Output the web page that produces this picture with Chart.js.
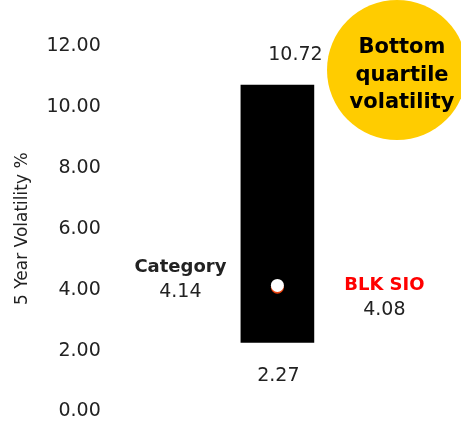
<!DOCTYPE html>
<html>
<head>
<meta charset="utf-8">
<script src="https://cdn.jsdelivr.net/npm/chart.js@4"></script>
<style>
  html, body { margin: 0; padding: 0; background: #fff; }
  #wrap { width: 461px; height: 421px; }
</style>
</head>
<body>
<div id="wrap"><canvas id="chart" width="461" height="421"></canvas></div>
<script>
// values
const categories = ['5 Year Volatility'];
const rangeLow = [2.27];
const rangeHigh = [10.72];
const categoryAvg = [4.14];
const fundValue = [4.08];
const yTicks = [0, 2, 4, 6, 8, 10, 12];

const FONT = '"DejaVu Sans", sans-serif';
const INK = '#222';

// text labels + yellow badge
const labelPlugin = {
    id: 'labels',
    afterDatasetsDraw(chart) {
        const { ctx, scales: { x, y } } = chart;
        const cx = x.getPixelForValue(0);
        ctx.save();
        ctx.textAlign = 'center';
        ctx.textBaseline = 'middle';

        ctx.fillStyle = INK;
        ctx.font = '19px ' + FONT;
        ctx.fillText(rangeHigh[0].toFixed(2), cx + 18, y.getPixelForValue(rangeHigh[0]) - 30);
        ctx.fillText(rangeLow[0].toFixed(2), cx + 1, y.getPixelForValue(rangeLow[0]) + 34);

        const yc = y.getPixelForValue(categoryAvg[0]);
        ctx.font = 'bold 18px ' + FONT;
        ctx.fillText('Category', cx - 97, yc - 18);
        ctx.font = '19px ' + FONT;
        ctx.fillText(categoryAvg[0].toFixed(2), cx - 97, yc + 7);

        const yf = y.getPixelForValue(fundValue[0]);
        ctx.fillStyle = '#ff0000';
        ctx.font = 'bold 18px ' + FONT;
        ctx.fillText('BLK SIO', cx + 107, yf - 2);
        ctx.fillStyle = INK;
        ctx.font = '19px ' + FONT;
        ctx.fillText(fundValue[0].toFixed(2), cx + 107, yf + 23);

        // badge
        ctx.beginPath();
        ctx.arc(397, 70, 70, 0, Math.PI * 2);
        ctx.fillStyle = '#ffcc00';
        ctx.fill();
        ctx.fillStyle = '#000';
        ctx.font = 'bold 21px ' + FONT;
        ctx.fillText('Bottom', 402, 48);
        ctx.fillText('quartile', 402, 76);
        ctx.fillText('volatility', 402, 103);
        ctx.restore();
    }
};

new Chart(document.getElementById('chart'), {
    data: {
        labels: categories,
        datasets: [
            {
                type: 'bar',
                data: categories.map((c, i) => [rangeLow[i], rangeHigh[i]]),
                backgroundColor: '#000',
                barThickness: 73,
                order: 3
            },
            {
                type: 'line',
                data: fundValue,
                showLine: false,
                pointRadius: 6.5,
                pointBackgroundColor: '#e8400c',
                pointBorderWidth: 0,
                order: 2
            },
            {
                type: 'line',
                data: categoryAvg,
                showLine: false,
                pointRadius: 6.5,
                pointBackgroundColor: '#fff',
                pointBorderWidth: 0,
                order: 1
            }
        ]
    },
    options: {
        responsive: false,
        animation: false,
        layout: { padding: { top: 46, bottom: 0, left: 12, right: 15 } },
        plugins: { legend: { display: false }, tooltip: { enabled: false } },
        scales: {
            x: { display: false, offset: true },
            y: {
                min: yTicks[0],
                max: yTicks[yTicks.length - 1],
                border: { display: false },
                grid: { display: false },
                title: {
                    display: true,
                    text: '5 Year Volatility %',
                    color: INK,
                    font: { family: FONT, size: 17 },
                    padding: { top: 0, bottom: 14 }
                },
                afterBuildTicks: axis => { axis.ticks = yTicks.map(v => ({ value: v })); },
                ticks: {
                    color: INK,
                    font: { family: FONT, size: 19, lineHeight: 1 },
                    padding: 0,
                    callback: v => Number(v).toFixed(2)
                }
            }
        }
    },
    plugins: [labelPlugin]
});
</script>
</body>
</html>
